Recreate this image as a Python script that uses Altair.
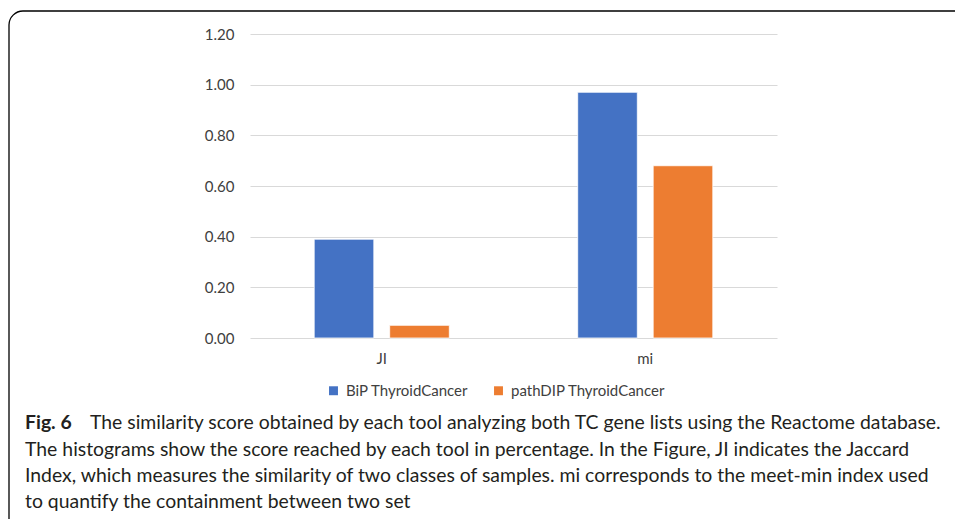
import altair as alt
import pandas as pd

# ---- data ----
metrics = ["JI", "JI", "mi", "mi"]
tools = ["BiP ThyroidCancer", "pathDIP ThyroidCancer", "BiP ThyroidCancer", "pathDIP ThyroidCancer"]
scores = [0.39, 0.05, 0.97, 0.68]
tool_order = ["BiP ThyroidCancer", "pathDIP ThyroidCancer"]
tool_colors = ["#4472C4", "#ED7D31"]
y_ticks = [0.0, 0.2, 0.4, 0.6, 0.8, 1.0, 1.2]
caption_bold = "Fig. 6"
caption_lines = [
    "The similarity score obtained by each tool analyzing both TC gene lists using the Reactome database.",
    "The histograms show the score reached by each tool in percentage. In the Figure, JI indicates the Jaccard",
    "Index, which measures the similarity of two classes of samples. mi corresponds to the meet-min index used",
    "to quantify the containment between two set",
]

df = pd.DataFrame({"metric": metrics, "tool": tools, "score": scores})
one = pd.DataFrame({"a": [0]})

PL, PT = 250, 34          # plot origin in page pixels
W, H = 527, 304

FONT = "Lato"
CAP_FONT = "Lato"
CAP_SIZE = 19.4

bars = alt.Chart(df).mark_bar(stroke="white", strokeWidth=0.8).encode(
    x=alt.X("metric:N", sort=["JI", "mi"],
            scale=alt.Scale(paddingInner=0.43, paddingOuter=0.215),
            axis=alt.Axis(title=None, labelAngle=0, domain=False, ticks=False,
                          labelPadding=13, labelFontSize=15, labelFont=FONT,
                          labelColor="#404040", grid=False)),
    xOffset=alt.XOffset("tool:N", sort=tool_order,
                        scale=alt.Scale(paddingInner=0.21, paddingOuter=0.1)),
    y=alt.Y("score:Q", scale=alt.Scale(domain=[0, 1.2], nice=False),
            axis=alt.Axis(title=None, values=y_ticks, format=".2f", domain=False,
                          ticks=False, labelPadding=16, labelFontSize=15,
                          labelFont=FONT, labelColor="#404040",
                          gridColor="#d9d9d9", gridWidth=1)),
    color=alt.Color("tool:N", sort=tool_order,
                    scale=alt.Scale(domain=tool_order, range=tool_colors),
                    legend=alt.Legend(title=None, orient="none", direction="horizontal",
                                      legendX=76, legendY=349, symbolType="square",
                                      symbolSize=80, symbolStrokeWidth=0,
                                      labelFontSize=15, labelFont=FONT,
                                      labelColor="#404040", columnPadding=22,
                                      symbolOffset=0, labelOffset=5)),
)

frame = alt.Chart(one).mark_rect(fill=None, stroke="black", strokeWidth=1.3,
                                 cornerRadius=14).encode(
    x=alt.value(9 - PL), x2=alt.value(980 - PL),
    y=alt.value(11 - PT), y2=alt.value(560 - PT),
)

cap_layers = []
cap_layers.append(
    alt.Chart(one).mark_text(text=caption_bold, font=CAP_FONT, fontSize=CAP_SIZE,
                             fontWeight="bold", align="left", baseline="middle",
                             color="#231f20").encode(
        x=alt.value(25 - PL), y=alt.value(423 - PT))
)
line_x = [90, 25, 25, 25]
line_y = [423, 450, 476, 502]
for txt, lx, ly in zip(caption_lines, line_x, line_y):
    cap_layers.append(
        alt.Chart(one).mark_text(text=txt, font=CAP_FONT, fontSize=CAP_SIZE,
                                 align="left", baseline="middle",
                                 color="#231f20").encode(
            x=alt.value(lx - PL), y=alt.value(ly - PT))
    )

chart = alt.layer(bars, frame, *cap_layers).properties(
    width=W, height=H,
    autosize=alt.AutoSizeParams(type="none"),
    padding={"left": PL, "top": PT, "right": 955 - PL - W, "bottom": 519 - PT - H},
    background="white",
).configure_view(stroke=None)

chart.save("out.html", embed_options={"renderer": "svg", "actions": False})
